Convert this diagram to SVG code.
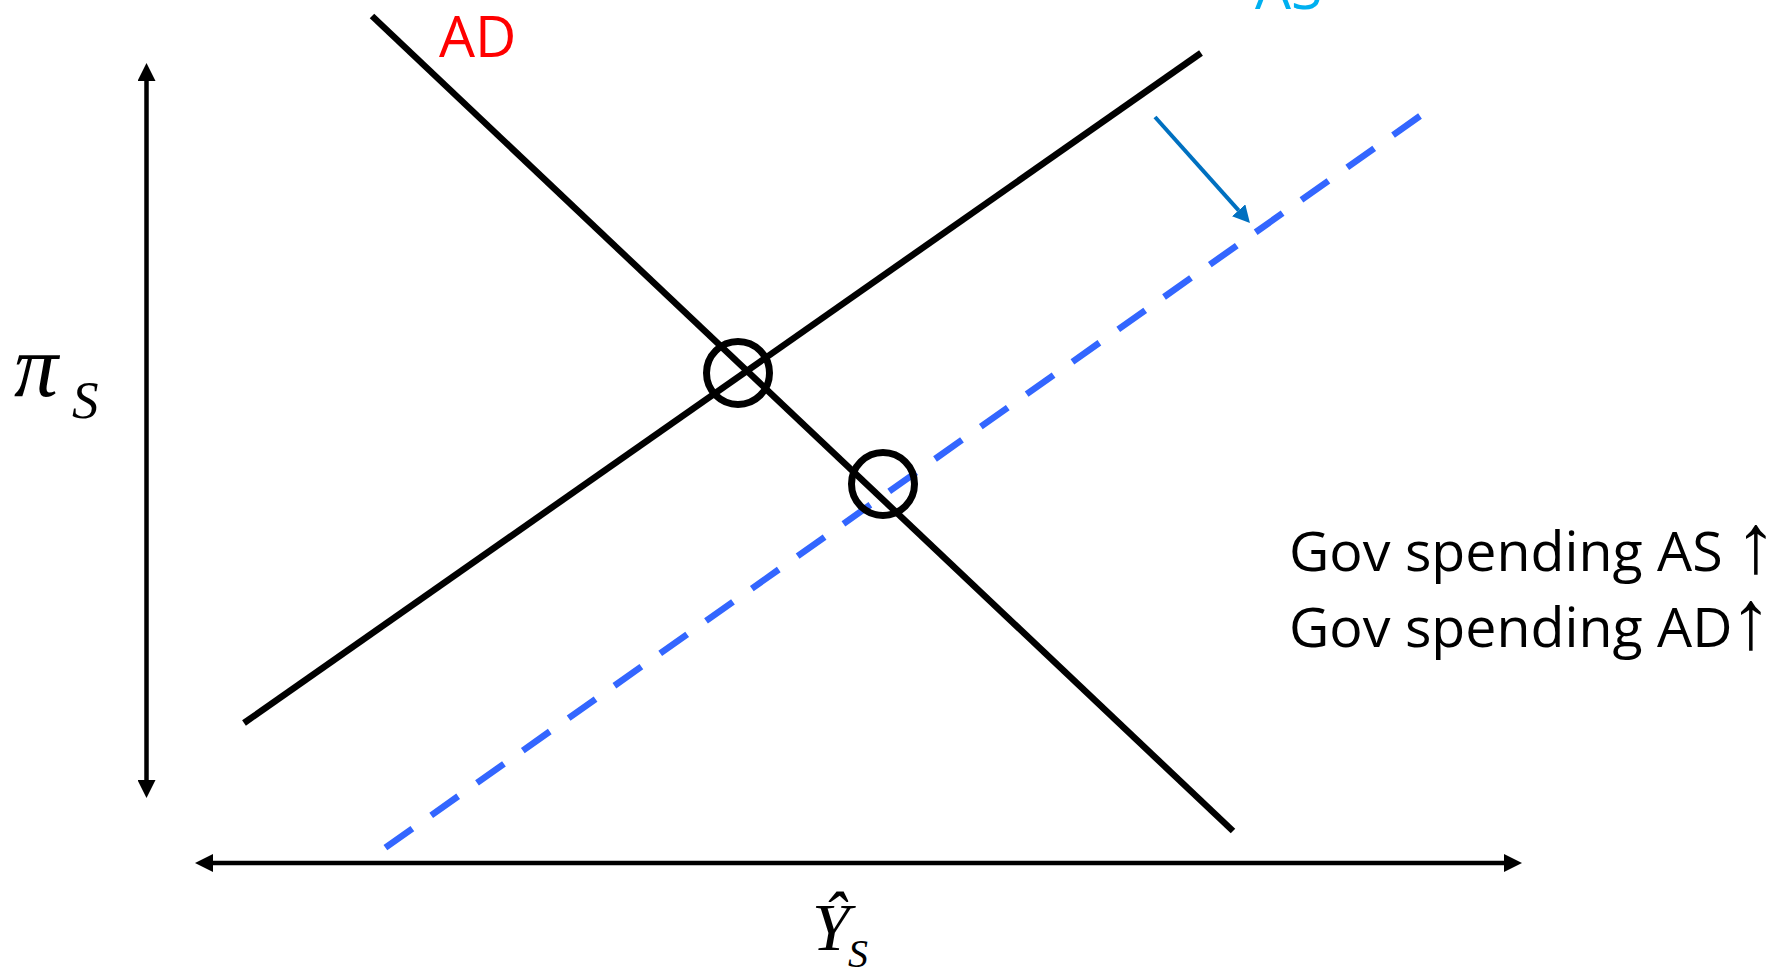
<svg xmlns="http://www.w3.org/2000/svg" width="1777" height="969" viewBox="0 0 1777 969">
<defs>
<style>
.curve{fill:none;stroke:#000;stroke-width:6.5;stroke-linecap:butt}
.shift{fill:none;stroke:#3366FF;stroke-width:6.5;stroke-dasharray:33 23.1}
.axis{fill:none;stroke:#000;stroke-width:4.5}
.eq{fill:none;stroke:#000;stroke-width:7}
.lbl{font-family:"Open Sans","Liberation Sans",sans-serif;font-size:57px}
.note{font-family:"Open Sans","Liberation Sans",sans-serif;font-size:55.5px;fill:#000}
.up{font-family:"Liberation Sans",sans-serif;font-size:84px}
.math{font-family:"Liberation Serif","Times New Roman",serif;font-style:italic;fill:#000}
</style>
<marker id="arrK" markerUnits="userSpaceOnUse" markerWidth="18" markerHeight="18" refX="0" refY="9" orient="auto-start-reverse" viewBox="0 0 18 18">
<path d="M0,0 L18,9 L0,18 z" fill="#000"/>
</marker>
<marker id="arrB" markerUnits="userSpaceOnUse" markerWidth="17" markerHeight="18" refX="0" refY="9" orient="auto" viewBox="0 0 17 18">
<path d="M0,0 L17,9 L0,18 z" fill="#0070C0"/>
</marker>
</defs>
<rect width="1777" height="969" fill="#fff"/>
<g id="connectors">
<line id="y-axis" class="axis" x1="146.5" y1="81" x2="146.5" y2="780" marker-start="url(#arrK)" marker-end="url(#arrK)"/>
<line id="x-axis" class="axis" x1="213" y1="863" x2="1504" y2="863" marker-start="url(#arrK)" marker-end="url(#arrK)"/>
<line id="shift-arrow" x1="1155" y1="117" x2="1238.6" y2="210.3" stroke="#0070C0" stroke-width="4" marker-end="url(#arrB)"/>
</g>
<g id="AD-curve">
<line class="curve" x1="372" y1="16" x2="1233" y2="831"/>
<text class="lbl" x="439" y="57" fill="#FF0000">AD</text>
</g>
<g id="AS-curve">
<line class="curve" x1="244" y1="723" x2="1201" y2="53"/>
<text class="lbl" x="1255" y="9" fill="#00B0F0">AS</text>
</g>
<g id="AS-shifted">
<line class="shift" x1="1420" y1="116" x2="385" y2="848"/>
</g>
<g id="equilibrium-1">
<circle class="eq" cx="738" cy="373" r="31.5"/>
</g>
<g id="equilibrium-2">
<circle class="eq" cx="883" cy="484" r="31.5"/>
</g>
<g id="y-label">
<text class="math" x="14" y="396" font-size="88">π<tspan x="72" y="418" font-size="53">S</tspan></text>
</g>
<g id="x-label">
<text class="math" x="812" y="950" font-size="68">Ŷ<tspan x="848" y="967" font-size="40">S</tspan></text>
</g>
<g id="note">
<text class="note" x="1289" y="571">Gov spending AS <tspan class="up" x="1735" y="572">↑</tspan></text>
<text class="note" x="1289" y="647">Gov spending AD<tspan class="up" x="1730" y="648">↑</tspan></text>
</g>
</svg>
